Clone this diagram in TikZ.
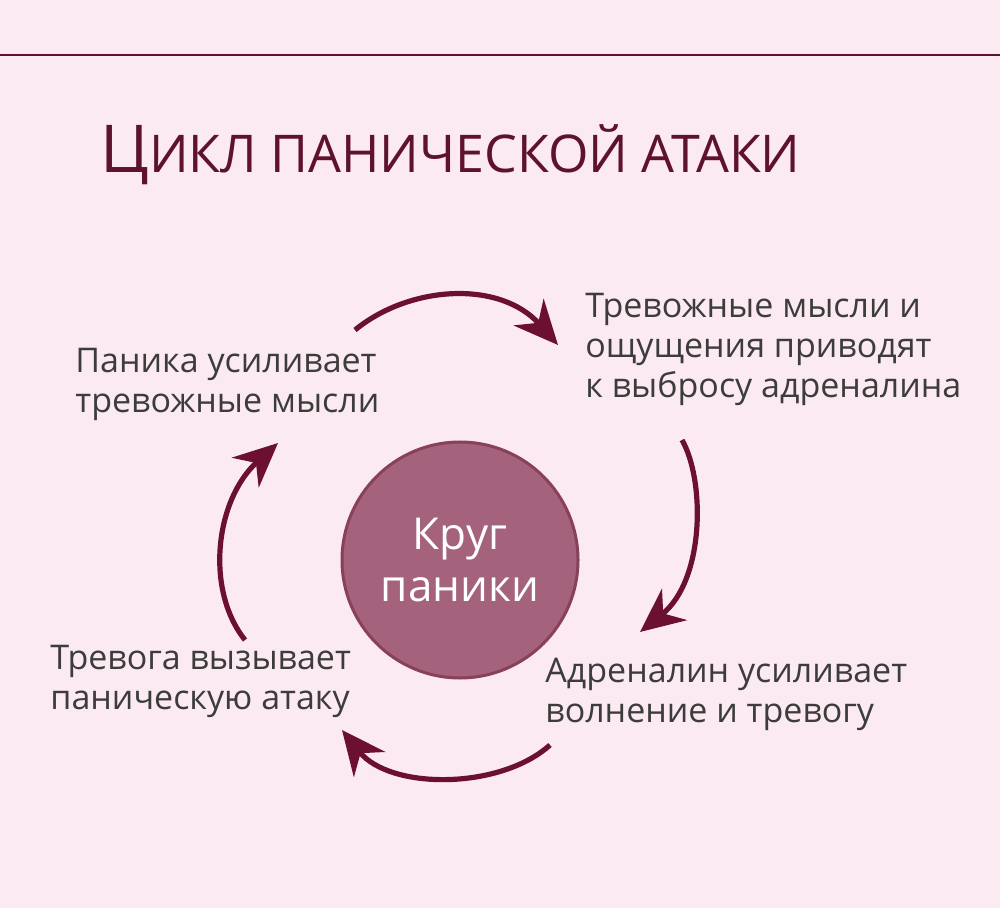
\documentclass[tikz,border=0pt]{standalone}
\usepackage{fontspec}
\setmainfont{Open Sans}
\usetikzlibrary{arrows.meta}
\definecolor{bg}{HTML}{FCEAF2}
\definecolor{maroon}{HTML}{5E1230}
\definecolor{arr}{HTML}{6B1030}
\definecolor{mauve}{HTML}{A4627C}
\definecolor{txt}{HTML}{3C3C3C}
\tikzset{
  lbl/.style={anchor=north west,align=left,text=txt,font=\fontsize{17}{20}\selectfont,inner sep=0pt},
  cyc/.style={draw=arr,line width=2.6pt,-{Stealth[length=22pt,width=20pt]}}
}
\begin{document}
\begin{tikzpicture}[x=0.5pt,y=-0.5pt]
\fill[bg] (0,0) rectangle (1000,908);
\useasboundingbox (0,0) rectangle (1000,908);
\draw[maroon,line width=1pt] (0,55) -- (1000,55);
\node[anchor=west,text=maroon,inner sep=0pt] (title) at (100,155)
  {\fontsize{33}{36}\selectfont Ц\fontsize{26}{30}\selectfont ИКЛ ПАНИЧЕСКОЙ АТАКИ};
\node[circle,fill=mauve,draw=arr!80,line width=1.5pt,minimum size=118pt,align=center,
  text=white,font=\fontsize{22}{26}\selectfont] (c) at (460,560) {Круг\\паники};
\node[lbl] (tl) at (75,348) {Паника усиливает\\тревожные мысли};
\node[lbl] (tr) at (585,293) {Тревожные мысли и\\ощущения приводят\\к выбросу адреналина};
\node[lbl] (br) at (545,658) {Адреналин усиливает\\волнение и тревогу};
\node[lbl] (bl) at (50,645) {Тревога вызывает\\паническую атаку};
\coordinate (a1) at (355,330); \coordinate (a2) at (558,345);
\coordinate (b1) at (682,440); \coordinate (b2) at (640,632);
\coordinate (c1) at (550,745); \coordinate (c2) at (342,730);
\coordinate (d1) at (245,640); \coordinate (d2) at (278,443);
\draw[cyc] (a1) .. controls (410,285) and (500,280) .. (a2);
\draw[cyc] (b1) .. controls (705,480) and (705,580) .. (b2);
\draw[cyc] (c1) .. controls (500,790) and (390,790) .. (c2);
\draw[cyc] (d1) .. controls (205,590) and (215,500) .. (d2);
\end{tikzpicture}
\end{document}
